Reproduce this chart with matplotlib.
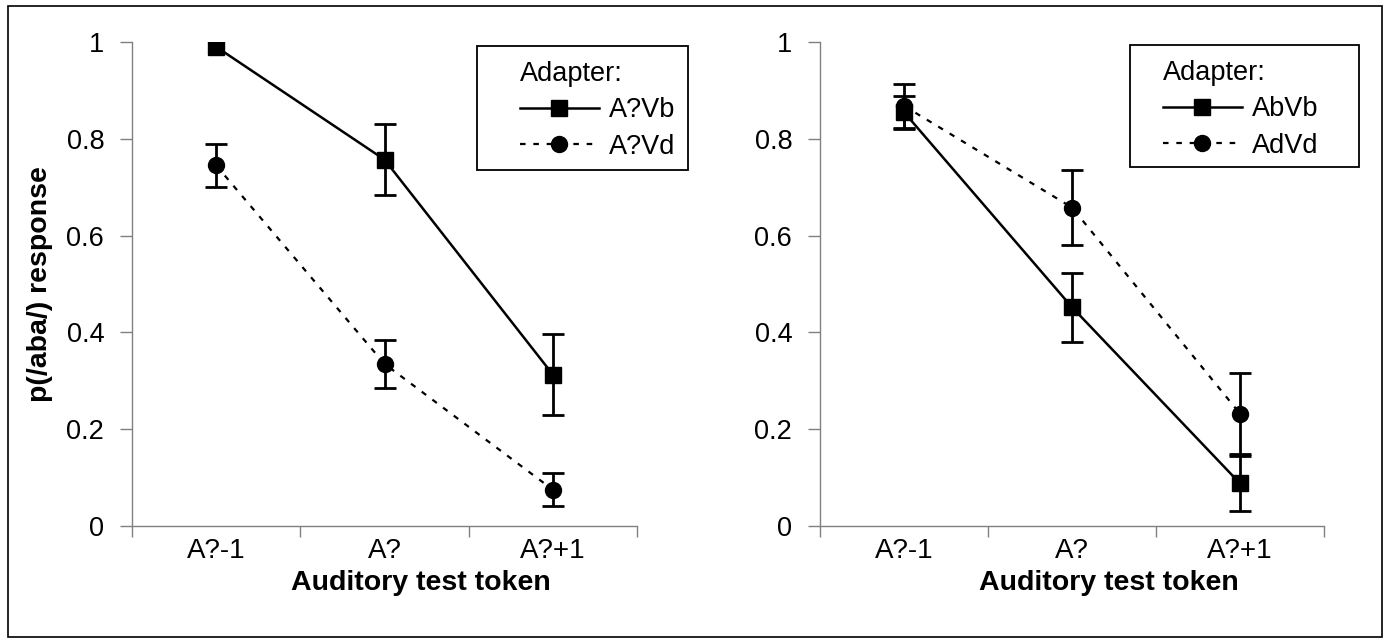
import matplotlib.pyplot as plt
from matplotlib.patches import Rectangle

plt.rcParams['font.family'] = ['Liberation Sans', 'DejaVu Sans']

tokens = ["A?-1", "A?", "A?+1"]
xpos = [0.5, 1.5, 2.5]

# left panel
left_names = ["A?Vb", "A?Vd"]
left_b = [0.99, 0.757, 0.313]
left_b_err = [0.0, 0.073, 0.083]
left_d = [0.745, 0.335, 0.075]
left_d_err = [0.045, 0.05, 0.034]

# right panel
right_names = ["AbVb", "AdVd"]
right_b = [0.855, 0.452, 0.088]
right_b_err = [0.034, 0.071, 0.056]
right_d = [0.868, 0.658, 0.232]
right_d_err = [0.046, 0.078, 0.084]

yticks = [0, 0.2, 0.4, 0.6, 0.8, 1]
ytick_labels = ["0", "0.2", "0.4", "0.6", "0.8", "1"]

W, H = 1388, 642
fig = plt.figure(figsize=(W / 100, H / 100), dpi=100)
fig.patches.append(Rectangle((8 / W, 5 / H), 1374 / W, 631 / H, transform=fig.transFigure,
                             fill=False, edgecolor='black', linewidth=1.2))

ax1 = fig.add_axes([132 / W, 1 - 526 / H, 505 / W, 484 / H])
ax2 = fig.add_axes([820 / W, 1 - 526 / H, 504 / W, 484 / H])


def series(ax, vals, errs, name, ls, marker, lw):
    line, = ax.plot(xpos, vals, color='black', lw=lw, ls=ls, marker=marker, ms=11.5,
                    label=name, zorder=3)
    ex = [x for x, e in zip(xpos, errs) if e > 0]
    ev = [v for v, e in zip(vals, errs) if e > 0]
    ee = [e for e in errs if e > 0]
    ax.errorbar(ex, ev, yerr=ee, fmt='none', ecolor='black', elinewidth=2,
                capsize=8, capthick=2, zorder=2)
    return line


def draw_panel(ax, b, b_err, d, d_err, names, box, ylabel):
    h1 = series(ax, b, b_err, names[0], '-', 's', 1.8)
    h2 = series(ax, d, d_err, names[1], (0, (2.5, 3.5)), 'o', 1.6)
    ax.set_xlim(0, 3)
    ax.set_ylim(0, 1)
    ax.set_yticks(yticks)
    ax.set_yticklabels(ytick_labels)
    ax.set_xticks(xpos)
    ax.set_xticklabels(tokens)
    ax.set_xticks([0, 1, 2, 3], minor=True)
    ax.tick_params(axis='x', which='major', length=0, pad=9, labelsize=20)
    ax.tick_params(axis='x', which='minor', length=8, color='#808080', width=1)
    ax.tick_params(axis='y', length=9, color='#808080', width=1, pad=11, labelsize=19.5)
    for s in ['top', 'right']:
        ax.spines[s].set_visible(False)
    for s in ['left', 'bottom']:
        ax.spines[s].set_color('#808080')
        ax.spines[s].set_linewidth(1)
    ax.set_xlabel("Auditory test token", fontsize=20.5, fontweight='bold')
    ax.xaxis.set_label_coords(0.573, -0.118)
    ax.xaxis.label.set_va('center')
    if ylabel:
        ax.set_ylabel(ylabel, fontsize=20.5, fontweight='bold', labelpad=10)
    x0, y0, x1, y1, tx = box
    fig.patches.append(Rectangle((x0 / W, 1 - y1 / H), (x1 - x0) / W, (y1 - y0) / H,
                                 transform=fig.transFigure, fill=False,
                                 edgecolor='black', linewidth=1.3))
    ax.legend([h1, h2], names, title="Adapter:", loc='upper left',
              bbox_to_anchor=(tx / W, 1 - (y0 + 15) / H), bbox_transform=fig.transFigure,
              fontsize=19.5, title_fontsize=19.5, alignment='left', frameon=False,
              handlelength=2.9, handletextpad=0.4, borderpad=0, labelspacing=0.38,
              borderaxespad=0)


draw_panel(ax1, left_b, left_b_err, left_d, left_d_err, left_names,
           (477, 46, 688, 170, 520), "p(/aba/) response")
draw_panel(ax2, right_b, right_b_err, right_d, right_d_err, right_names,
           (1130, 45, 1359, 167, 1163), None)

fig.savefig("out.png", dpi=100)
